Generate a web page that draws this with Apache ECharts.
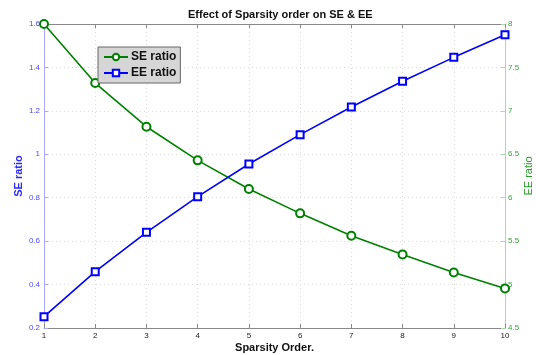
<!DOCTYPE html>
<html>
<head>
<meta charset="utf-8">
<script src="https://cdn.jsdelivr.net/npm/echarts@6/dist/echarts.min.js"></script>
<style>
  html, body { margin: 0; padding: 0; background: #fff; }
  #chart { width: 536px; height: 355px; }
</style>
</head>
<body>
<div id="chart"></div>
<script>
// Sparsity order on the x axis
const sparsityOrder = [1, 2, 3, 4, 5, 6, 7, 8, 9, 10];
// Spectral efficiency ratio (left axis)
const seRatio = [1.600, 1.328, 1.127, 0.972, 0.840, 0.728, 0.625, 0.539, 0.456, 0.382];
// Energy efficiency ratio (right axis)
const eeRatio = [4.63, 5.148, 5.602, 6.012, 6.388, 6.726, 7.044, 7.340, 7.616, 7.877];

const chart = echarts.init(document.getElementById('chart'), null, { renderer: 'canvas' });

const font = 'Liberation Sans, Arial, Helvetica, sans-serif';
const gridLine = { show: true, lineStyle: { color: '#dcdcdc', type: [1, 3], width: 1 } };

chart.setOption({
  animation: false,
  backgroundColor: '#ffffff',
  title: {
    text: 'Effect of Sparsity order on SE & EE',
    left: 183,
    top: 4,
    textStyle: { fontFamily: font, fontSize: 11, fontWeight: 'bold', color: '#111' }
  },
  legend: {
    left: 98,
    top: 47,
    orient: 'vertical',
    itemGap: 4,
    itemWidth: 24,
    itemHeight: 8,
    padding: [4, 4, 4, 5],
    backgroundColor: '#d6d6d6',
    borderColor: '#666',
    borderWidth: 1,
    borderRadius: 0,
    textStyle: { fontFamily: font, fontSize: 12, fontWeight: 'bold', color: '#111', padding: [0, 0, 0, -2] },
    data: ['SE ratio', 'EE ratio']
  },
  grid: { left: 44, right: 31, top: 24, bottom: 27, outerBoundsMode: 'none', containLabel: false },
  xAxis: [
    {
      type: 'value', min: 1, max: 10, interval: 1,
      name: 'Sparsity Order.', nameLocation: 'middle', nameGap: 14, nameMoveOverlap: false,
      nameTextStyle: { fontFamily: font, fontSize: 11, fontWeight: 'bold', color: '#111' },
      axisLine: { lineStyle: { color: '#888' } },
      axisTick: { inside: true, length: 4, lineStyle: { color: '#888' } },
      axisLabel: { fontFamily: font, fontSize: 8, color: '#222', margin: 4 },
      splitLine: gridLine
    },
    {
      type: 'value', min: 1, max: 10, interval: 1, position: 'top',
      axisLine: { show: true, lineStyle: { color: '#888' } },
      axisTick: { show: true, inside: true, length: 4, lineStyle: { color: '#888' } },
      axisLabel: { show: false },
      splitLine: { show: false }
    }
  ],
  yAxis: [
    {
      type: 'value', min: 0.2, max: 1.6, interval: 0.2, position: 'left',
      name: 'SE ratio', nameLocation: 'middle', nameGap: 20, nameRotate: 90, nameMoveOverlap: false,
      nameTextStyle: { fontFamily: font, fontSize: 11, fontWeight: 'bold', color: '#2a2aff' },
      axisLine: { show: true, lineStyle: { color: '#a8a8ff' } },
      axisTick: { show: true, inside: true, length: 4, lineStyle: { color: '#a8a8ff' } },
      axisLabel: { fontFamily: font, fontSize: 8, color: '#4a4aff', margin: 4 },
      splitLine: gridLine
    },
    {
      type: 'value', min: 4.5, max: 8, interval: 0.5, position: 'right',
      name: 'EE ratio', nameLocation: 'middle', nameGap: 18, nameRotate: 90, nameMoveOverlap: false,
      nameTextStyle: { fontFamily: font, fontSize: 11, color: '#2a9a2a' },
      axisLine: { show: true, lineStyle: { color: '#a6dca6' } },
      axisTick: { show: true, inside: true, length: 4, lineStyle: { color: '#a6dca6' } },
      axisLabel: { fontFamily: font, fontSize: 8, color: '#3aa03a', margin: 3 },
      splitLine: { show: false }
    }
  ],
  series: [
    {
      name: 'SE ratio',
      type: 'line',
      yAxisIndex: 0,
      data: sparsityOrder.map((x, i) => [x, seRatio[i]]),
      symbol: 'emptyCircle',
      symbolSize: 8,
      color: '#008000',
      lineStyle: { width: 1.6, color: '#008000' },
      itemStyle: { color: '#008000', borderWidth: 1.6 }
    },
    {
      name: 'EE ratio',
      type: 'line',
      yAxisIndex: 1,
      data: sparsityOrder.map((x, i) => [x, eeRatio[i]]),
      symbol: 'emptyRect',
      symbolSize: 7,
      color: '#0000ff',
      lineStyle: { width: 1.6, color: '#0000ff' },
      itemStyle: { color: '#0000ff', borderWidth: 1.6 }
    }
  ]
});
</script>
</body>
</html>
